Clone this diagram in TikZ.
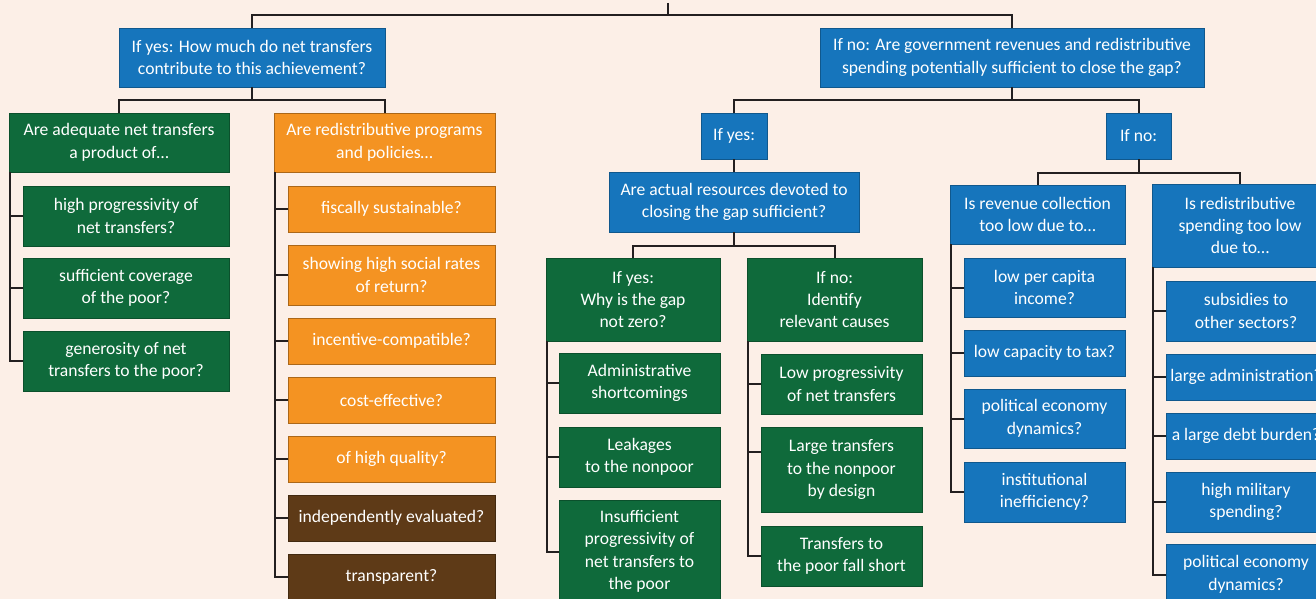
\documentclass[tikz,border=0pt]{standalone}
\usepackage{fontspec}
\setmainfont{Carlito}
\definecolor{bg}{HTML}{FCEFE7}
\definecolor{cblue}{HTML}{1675BC}
\definecolor{cgreen}{HTML}{0F6A3B}
\definecolor{corange}{HTML}{F49322}
\definecolor{cbrown}{HTML}{5E3A17}
\definecolor{cline}{HTML}{231F20}
\tikzset{
  box/.style={inner sep=0pt, align=center, text=white, font=\fontsize{17.6}{22.4}\selectfont, line width=0.8pt},
  bluebox/.style={box, fill=cblue, draw=cblue!75!black},
  greenbox/.style={box, fill=cgreen, draw=cgreen!75!black},
  orangebox/.style={box, fill=corange, draw=corange!70!black},
  brownbox/.style={box, fill=cbrown, draw=cbrown!70!black},
  conn/.style={draw=cline, line width=2pt}
}
\newcommand\bx[7]{\node[#2, minimum width={(#5-#3)*1pt}, minimum height={(#6-#4)*1pt}] (#1) at ({(#3+#5)/2},{(#4+#6)/2}) {#7};}
\begin{document}
\begin{tikzpicture}[x=1pt,y=-1pt]
\fill[bg] (0,0) rectangle (1316,599);
\useasboundingbox (0,0) rectangle (1316,599);
\clip (0,0) rectangle (1316,599);
% level 1
\bx{q1}{bluebox}{119}{28}{385}{87}{If yes: How much do net transfers\\contribute to this achievement?}
\bx{q2}{bluebox}{820}{28}{1204}{87}{If no: Are government revenues and redistributive\\spending potentially sufficient to close the gap?}
% left branch
\bx{a}{greenbox}{9}{113}{229}{172}{Are adequate net transfers\\a product of…}
\bx{a1}{greenbox}{23}{186}{229}{246}{high progressivity of\\net transfers?}
\bx{a2}{greenbox}{23}{258}{229}{318}{sufficient coverage\\of the poor?}
\bx{a3}{greenbox}{23}{331}{229}{391}{generosity of net\\transfers to the poor?}
\bx{b}{orangebox}{274}{113}{495}{172}{Are redistributive programs\\and policies…}
\bx{b1}{orangebox}{288}{186}{495}{232}{fiscally sustainable?}
\bx{b2}{orangebox}{288}{245}{495}{305}{showing high social rates\\of return?}
\bx{b3}{orangebox}{288}{318}{495}{364}{incentive-compatible?}
\bx{b4}{orangebox}{288}{377}{495}{423}{cost-effective?}
\bx{b5}{orangebox}{288}{436}{495}{482}{of high quality?}
\bx{b6}{brownbox}{288}{495}{495}{541}{independently evaluated?}
\bx{b7}{brownbox}{288}{554}{495}{600}{transparent?}
% middle branch
\bx{y}{bluebox}{701}{113}{767}{159}{If yes:}
\bx{yq}{bluebox}{609}{172}{859}{232}{Are actual resources devoted to\\closing the gap sufficient?}
\bx{c}{greenbox}{546}{258}{720}{341}{If yes:\\Why is the gap\\not zero?}
\bx{c1}{greenbox}{559}{353}{720}{413}{Administrative\\shortcomings}
\bx{c2}{greenbox}{559}{427}{720}{487}{Leakages\\to the nonpoor}
\bx{c3}{greenbox}{559}{500}{720}{603}{Insufficient\\progressivity of\\net transfers to\\the poor}
\bx{d}{greenbox}{747}{258}{922}{341}{If no:\\Identify\\relevant causes}
\bx{d1}{greenbox}{761}{354}{922}{414}{Low progressivity\\of net transfers}
\bx{d2}{greenbox}{761}{427}{922}{512}{Large transfers\\to the nonpoor\\by design}
\bx{d3}{greenbox}{761}{526}{922}{586}{Transfers to\\the poor fall short}
% right branch
\bx{n}{bluebox}{1106}{113}{1171}{159}{If no:}
\bx{e}{bluebox}{950}{185}{1125}{244}{Is revenue collection\\too low due to…}
\bx{e1}{bluebox}{964}{258}{1125}{317}{low per capita\\income?}
\bx{e2}{bluebox}{964}{330}{1125}{376}{low capacity to tax?}
\bx{e3}{bluebox}{964}{389}{1125}{448}{political economy\\dynamics?}
\bx{e4}{bluebox}{964}{462}{1125}{522}{institutional\\inefficiency?}
\bx{f}{bluebox}{1152}{184}{1328}{267}{Is redistributive\\spending too low\\due to…}
\bx{f1}{bluebox}{1166}{281}{1326}{341}{subsidies to\\other sectors?}
\bx{f2}{bluebox}{1166}{354}{1326}{400}{large administration?}
\bx{f3}{bluebox}{1166}{413}{1326}{459}{a large debt burden?}
\bx{f4}{bluebox}{1166}{472}{1326}{532}{high military\\spending?}
\bx{f5}{bluebox}{1166}{544}{1326}{605}{political economy\\dynamics?}
% connectors
\coordinate (top) at (668,3);
\coordinate (tj) at (668,15);
\draw[conn] (top) -- (tj);
\draw[conn] (tj) -| (q1.north);
\draw[conn] (tj) -| (q2.north);
\coordinate (j1) at (252,100);
\draw[conn] (q1.south) -- (j1);
\draw[conn] (j1) -| (a.north);
\draw[conn] (j1) -| (b.north);
\foreach \k in {a1,a2,a3} \draw[conn] ([xshift=1pt]a.south west) |- (\k.west);
\foreach \k in {b1,b2,b3,b4,b5,b6,b7} \draw[conn] ([xshift=1pt]b.south west) |- (\k.west);
\coordinate (j2) at (1012,100);
\draw[conn] (q2.south) -- (j2);
\draw[conn] (j2) -| (y.north);
\draw[conn] (j2) -| (n.north);
\draw[conn] (y.south) -- (yq.north);
\coordinate (j3) at (734,246);
\draw[conn] (yq.south) -- (j3);
\draw[conn] (j3) -| (c.north);
\draw[conn] (j3) -| (d.north);
\foreach \k in {c1,c2,c3} \draw[conn] ([xshift=1pt]c.south west) |- (\k.west);
\draw[conn] ([xshift=1pt]d.south west) |- (d1.west);
\draw[conn] ([xshift=1pt]d.south west) |- ([yshift=18pt]d2.west);
\draw[conn] ([xshift=1pt]d.south west) |- (d3.west);
\coordinate (j4) at (1138.5,173);
\draw[conn] (n.south) -- (j4);
\draw[conn] (j4) -| (e.north);
\draw[conn] (j4) -| (f.north);
\foreach \k in {e1,e2,e3,e4} \draw[conn] ([xshift=1pt]e.south west) |- (\k.west);
\foreach \k in {f1,f2,f3,f4,f5} \draw[conn] ([xshift=1pt]f.south west) |- (\k.west);
\end{tikzpicture}
\end{document}
